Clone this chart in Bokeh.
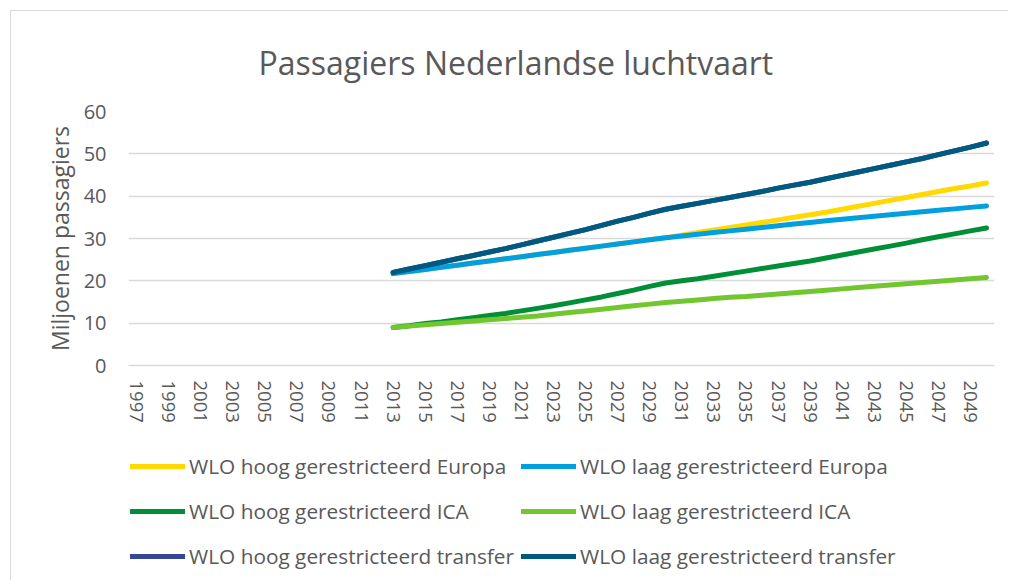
from bokeh.plotting import figure
from bokeh.models import Range1d, FixedTicker, Legend, LegendItem
from bokeh.layouts import column
from bokeh.embed import file_html
from bokeh.resources import INLINE

years = list(range(2013, 2051))

hoog_europa = [21.7, 22.2, 22.7, 23.2, 23.7, 24.2, 24.7, 25.2, 25.7, 26.2, 26.7, 27.2, 27.7,
               28.2, 28.7, 29.2, 29.7, 30.2, 30.8, 31.4, 32.0, 32.6, 33.2, 33.8, 34.4, 35.0,
               35.6, 36.2, 36.9, 37.6, 38.3, 39.0, 39.7, 40.4, 41.1, 41.8, 42.4, 43.1]
laag_europa = [21.7, 22.2, 22.7, 23.2, 23.7, 24.2, 24.7, 25.2, 25.7, 26.2, 26.7, 27.2, 27.7,
               28.2, 28.7, 29.2, 29.7, 30.2, 30.6, 31.0, 31.4, 31.8, 32.2, 32.6, 33.0, 33.4,
               33.8, 34.2, 34.55, 34.9, 35.25, 35.6, 35.95, 36.3, 36.65, 37.0, 37.35, 37.7]
hoog_ica = [9.0, 9.4, 9.9, 10.3, 10.8, 11.3, 11.8, 12.3, 12.9, 13.5, 14.1, 14.8, 15.5, 16.2,
            17.0, 17.8, 18.7, 19.5, 20.0, 20.5, 21.1, 21.7, 22.3, 22.9, 23.5, 24.1, 24.7,
            25.4, 26.1, 26.8, 27.5, 28.2, 28.9, 29.7, 30.4, 31.1, 31.8, 32.5]
laag_ica = [9.0, 9.3, 9.6, 9.9, 10.2, 10.5, 10.8, 11.1, 11.4, 11.7, 12.1, 12.5, 12.9, 13.3,
            13.7, 14.1, 14.5, 14.9, 15.2, 15.5, 15.8, 16.1, 16.3, 16.6, 16.9, 17.2, 17.5,
            17.8, 18.1, 18.4, 18.7, 19.0, 19.3, 19.6, 19.9, 20.2, 20.5, 20.8]
hoog_transfer = [22.0, 22.8, 23.6, 24.4, 25.2, 26.0, 26.8, 27.6, 28.5, 29.4, 30.3, 31.2, 32.1,
                 33.1, 34.1, 35.0, 36.0, 36.9, 37.6, 38.3, 39.0, 39.7, 40.4, 41.1, 41.9, 42.6,
                 43.3, 44.1, 44.9, 45.7, 46.5, 47.3, 48.1, 48.9, 49.8, 50.7, 51.6, 52.6]
laag_transfer = [22.0, 22.8, 23.6, 24.4, 25.2, 26.0, 26.8, 27.6, 28.5, 29.4, 30.3, 31.2, 32.1,
                 33.1, 34.1, 35.0, 36.0, 36.9, 37.6, 38.3, 39.0, 39.7, 40.4, 41.1, 41.9, 42.6,
                 43.3, 44.1, 44.9, 45.7, 46.5, 47.3, 48.1, 48.9, 49.8, 50.7, 51.6, 52.5]

series_names = ["WLO hoog gerestricteerd Europa", "WLO laag gerestricteerd Europa",
                "WLO hoog gerestricteerd ICA", "WLO laag gerestricteerd ICA",
                "WLO hoog gerestricteerd transfer", "WLO laag gerestricteerd transfer"]
series_values = [hoog_europa, laag_europa, hoog_ica, laag_ica, hoog_transfer, laag_transfer]
series_colors = ["#FFD900", "#009FDF", "#008F36", "#72C62F", "#36479A", "#005A80"]

x_tick_years = list(range(1997, 2050, 2))
y_ticks = [0, 10, 20, 30, 40, 50, 60]

FONT = "Open Sans"
GREY = "#595959"
BORDER = "1.5px solid #d9d9d9"

p = figure(frame_width=865, frame_height=253, output_backend="svg", toolbar_location=None,
           x_range=Range1d(1996.5, 2050.5), y_range=Range1d(0, 60),
           min_border_left=117, min_border_right=15, min_border_top=100,
           min_border_bottom=76)
p.styles = {"border-left": BORDER, "border-top": BORDER}
p.outline_line_color = None
p.background_fill_color = "white"
p.border_fill_color = "white"

p.title.text = "Passagiers Nederlandse luchtvaart"
p.title.align = "left"
p.title.offset = 130
p.title.text_font = FONT
p.title.text_font_style = "normal"
p.title.text_font_size = "32px"
p.title.text_color = GREY
p.title.standoff = 55

for vals, col in zip(series_values, series_colors):
    p.line(years, vals, line_color=col, line_width=5, line_cap="round", line_join="round")

p.xaxis.ticker = FixedTicker(ticks=x_tick_years)
p.xaxis.major_label_orientation = "vertical"
p.xaxis.major_tick_line_color = None
p.xaxis.minor_tick_line_color = None
p.xaxis.axis_line_color = "#d9d9d9"
p.xaxis.axis_line_width = 1.5
p.xaxis.major_label_text_font = FONT
p.xaxis.major_label_text_font_size = "18.5px"
p.xaxis.major_label_text_color = GREY
p.xaxis.major_label_standoff = 9

p.yaxis.ticker = FixedTicker(ticks=y_ticks)
p.yaxis.major_tick_line_color = None
p.yaxis.minor_tick_line_color = None
p.yaxis.axis_line_color = None
p.yaxis.major_label_text_font = FONT
p.yaxis.major_label_text_font_size = "20px"
p.yaxis.major_label_text_color = GREY
p.yaxis.major_label_standoff = 16
p.yaxis.axis_label = "Miljoenen passagiers"
p.yaxis.axis_label_text_font = FONT
p.yaxis.axis_label_text_font_size = "23px"
p.yaxis.axis_label_text_font_style = "normal"
p.yaxis.axis_label_text_color = GREY
p.yaxis.axis_label_standoff = 5

p.xgrid.grid_line_color = None
p.ygrid.grid_line_color = "#d9d9d9"
p.ygrid.grid_line_width = 1.5

# legend panel: a separate figure below the chart; its series lie outside its
# (0..1) view, so only the legend swatches and labels are visible
lg = figure(width=990, height=140, output_backend="svg", toolbar_location=None,
            x_axis_type=None, y_axis_type=None, min_border=0,
            x_range=Range1d(0, 1), y_range=Range1d(0, 1))
lg.styles = {"border-left": BORDER}
lg.outline_line_color = None
lg.grid.grid_line_color = None
lg.background_fill_color = "white"
lg.border_fill_color = "white"
swatches = [lg.line(years, vals, line_color=col, line_width=5, line_cap="round")
            for vals, col in zip(series_values, series_colors)]
items = [LegendItem(label=n, renderers=[r]) for n, r in zip(series_names, swatches)]
legend = Legend(items=items, orientation="horizontal", ncols=2, location=(2, 5),
                glyph_width=55, glyph_height=38, label_standoff=4, spacing=7,
                label_height=38, padding=0, margin=0, border_line_color=None,
                background_fill_alpha=0,
                label_text_font=FONT, label_text_font_size="20.8px", label_text_color=GREY)
lg.add_layout(legend, "center")

layout = column(p, lg, spacing=0)
layout.styles = {"margin-left": "10px", "margin-top": "10px"}

open("out.html", "w").write(file_html(layout, INLINE))
